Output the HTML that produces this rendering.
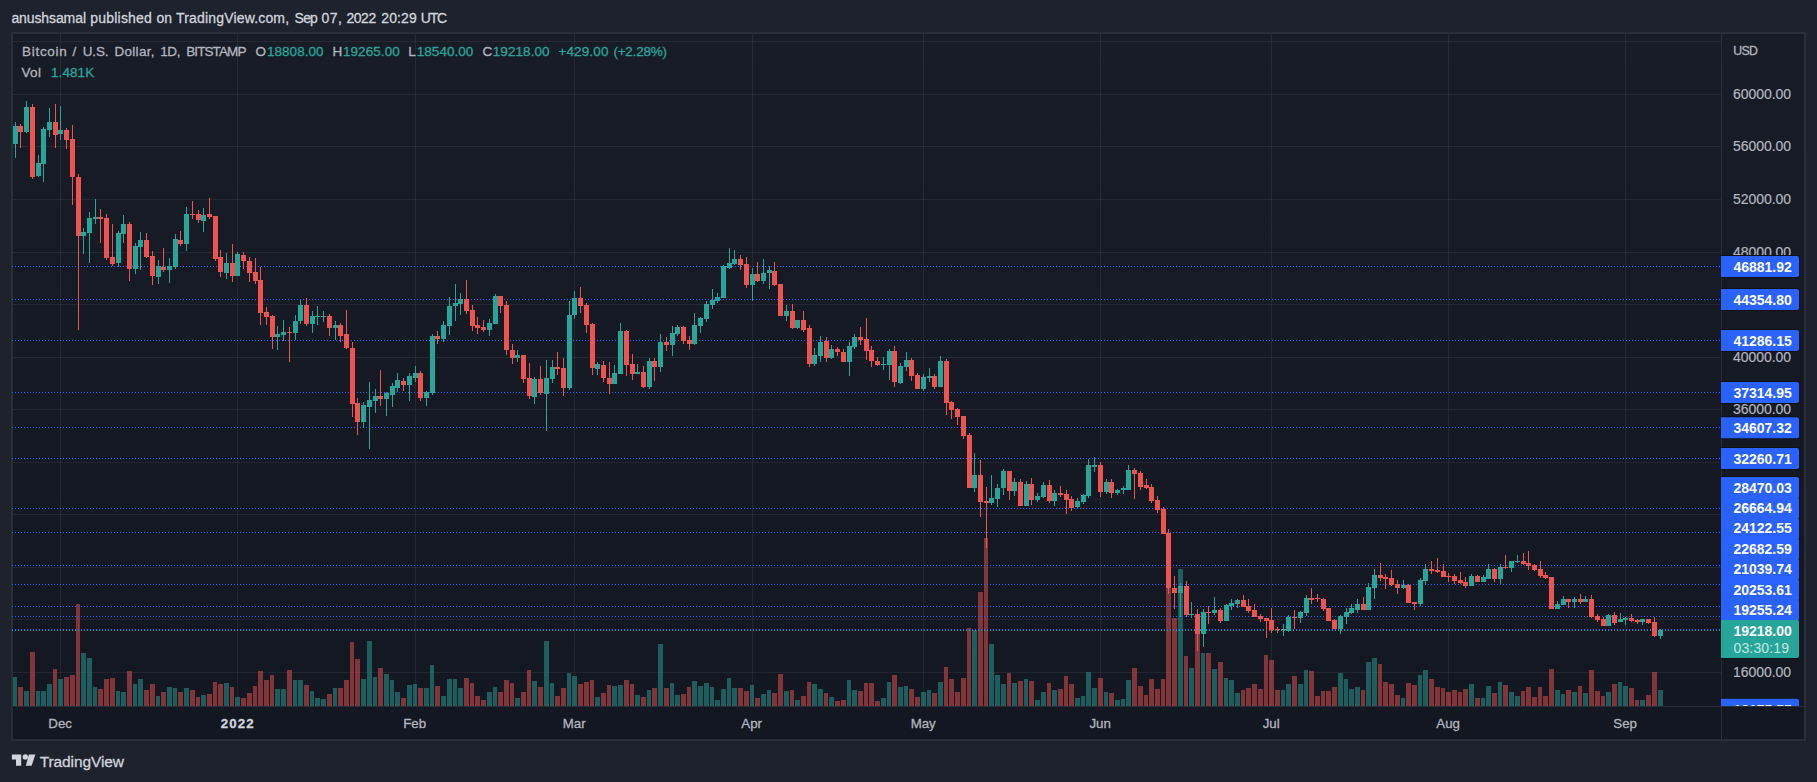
<!DOCTYPE html>
<html lang="en"><head><meta charset="utf-8"><title>BTCUSD chart</title>
<style>html,body{margin:0;padding:0;background:#1e222d;}body{width:1817px;height:782px;overflow:hidden;position:relative;font-family:"Liberation Sans",sans-serif;}svg{position:absolute;left:0;top:0;display:block}text{font-family:"Liberation Sans",sans-serif;}</style>
</head><body>
<svg width="1817" height="782" viewBox="0 0 1817 782">
<defs><linearGradient id="bg" x1="0" y1="0" x2="0" y2="1"><stop offset="0" stop-color="#181c27"/><stop offset="1" stop-color="#131722"/></linearGradient>
<clipPath id="pane"><rect x="13" y="34" width="1708" height="672"/></clipPath>
<clipPath id="axis"><rect x="1721" y="34" width="83" height="672"/></clipPath></defs>
<rect width="1817" height="782" fill="#1e222d"/>
<rect x="11" y="32" width="1795" height="709" fill="#2a2e39"/>
<rect x="13" y="34" width="1791" height="705" fill="url(#bg)"/>
<g shape-rendering="crispEdges">
<rect x="60" y="34" width="1" height="672" fill="#f0f3fa" fill-opacity="0.065"/>
<rect x="237" y="34" width="1" height="672" fill="#f0f3fa" fill-opacity="0.065"/>
<rect x="415" y="34" width="1" height="672" fill="#f0f3fa" fill-opacity="0.065"/>
<rect x="574" y="34" width="1" height="672" fill="#f0f3fa" fill-opacity="0.065"/>
<rect x="752" y="34" width="1" height="672" fill="#f0f3fa" fill-opacity="0.065"/>
<rect x="923" y="34" width="1" height="672" fill="#f0f3fa" fill-opacity="0.065"/>
<rect x="1100" y="34" width="1" height="672" fill="#f0f3fa" fill-opacity="0.065"/>
<rect x="1271" y="34" width="1" height="672" fill="#f0f3fa" fill-opacity="0.065"/>
<rect x="1448" y="34" width="1" height="672" fill="#f0f3fa" fill-opacity="0.065"/>
<rect x="1625" y="34" width="1" height="672" fill="#f0f3fa" fill-opacity="0.065"/>
<rect x="13" y="41" width="1708" height="1" fill="#f0f3fa" fill-opacity="0.065"/>
<rect x="13" y="94" width="1708" height="1" fill="#f0f3fa" fill-opacity="0.065"/>
<rect x="13" y="146" width="1708" height="1" fill="#f0f3fa" fill-opacity="0.065"/>
<rect x="13" y="199" width="1708" height="1" fill="#f0f3fa" fill-opacity="0.065"/>
<rect x="13" y="252" width="1708" height="1" fill="#f0f3fa" fill-opacity="0.065"/>
<rect x="13" y="304" width="1708" height="1" fill="#f0f3fa" fill-opacity="0.065"/>
<rect x="13" y="357" width="1708" height="1" fill="#f0f3fa" fill-opacity="0.065"/>
<rect x="13" y="409" width="1708" height="1" fill="#f0f3fa" fill-opacity="0.065"/>
<rect x="13" y="462" width="1708" height="1" fill="#f0f3fa" fill-opacity="0.065"/>
<rect x="13" y="514" width="1708" height="1" fill="#f0f3fa" fill-opacity="0.065"/>
<rect x="13" y="567" width="1708" height="1" fill="#f0f3fa" fill-opacity="0.065"/>
<rect x="13" y="619" width="1708" height="1" fill="#f0f3fa" fill-opacity="0.065"/>
<rect x="13" y="672" width="1708" height="1" fill="#f0f3fa" fill-opacity="0.065"/>
<rect x="1721" y="34" width="1" height="705" fill="#2a2e39"/>
<rect x="13" y="706" width="1791" height="1" fill="#2a2e39"/>
<g clip-path="url(#pane)">
<rect x="13" y="677" width="4" height="29" fill="rgba(38,166,154,0.5)"/>
<rect x="18" y="687" width="5" height="19" fill="rgba(239,83,80,0.5)"/>
<rect x="24" y="691" width="5" height="15" fill="rgba(38,166,154,0.5)"/>
<rect x="30" y="652" width="5" height="54" fill="rgba(239,83,80,0.5)"/>
<rect x="36" y="691" width="4" height="15" fill="rgba(38,166,154,0.5)"/>
<rect x="41" y="691" width="5" height="15" fill="rgba(38,166,154,0.5)"/>
<rect x="47" y="684" width="5" height="22" fill="rgba(38,166,154,0.5)"/>
<rect x="53" y="669" width="4" height="37" fill="rgba(239,83,80,0.5)"/>
<rect x="58" y="679" width="5" height="27" fill="rgba(38,166,154,0.5)"/>
<rect x="64" y="677" width="5" height="29" fill="rgba(239,83,80,0.5)"/>
<rect x="70" y="675" width="5" height="31" fill="rgba(239,83,80,0.5)"/>
<rect x="76" y="604" width="4" height="102" fill="rgba(239,83,80,0.5)"/>
<rect x="81" y="653" width="5" height="53" fill="rgba(38,166,154,0.5)"/>
<rect x="87" y="658" width="5" height="48" fill="rgba(38,166,154,0.5)"/>
<rect x="93" y="687" width="4" height="19" fill="rgba(38,166,154,0.5)"/>
<rect x="98" y="689" width="5" height="17" fill="rgba(239,83,80,0.5)"/>
<rect x="104" y="679" width="5" height="27" fill="rgba(239,83,80,0.5)"/>
<rect x="110" y="678" width="5" height="28" fill="rgba(239,83,80,0.5)"/>
<rect x="116" y="691" width="4" height="15" fill="rgba(38,166,154,0.5)"/>
<rect x="121" y="692" width="5" height="14" fill="rgba(38,166,154,0.5)"/>
<rect x="127" y="671" width="5" height="35" fill="rgba(239,83,80,0.5)"/>
<rect x="133" y="684" width="4" height="22" fill="rgba(38,166,154,0.5)"/>
<rect x="138" y="679" width="5" height="27" fill="rgba(38,166,154,0.5)"/>
<rect x="144" y="690" width="5" height="16" fill="rgba(239,83,80,0.5)"/>
<rect x="150" y="684" width="5" height="22" fill="rgba(239,83,80,0.5)"/>
<rect x="156" y="696" width="4" height="10" fill="rgba(38,166,154,0.5)"/>
<rect x="161" y="692" width="5" height="14" fill="rgba(239,83,80,0.5)"/>
<rect x="167" y="687" width="5" height="19" fill="rgba(38,166,154,0.5)"/>
<rect x="173" y="688" width="4" height="18" fill="rgba(38,166,154,0.5)"/>
<rect x="178" y="692" width="5" height="14" fill="rgba(239,83,80,0.5)"/>
<rect x="184" y="688" width="5" height="18" fill="rgba(38,166,154,0.5)"/>
<rect x="190" y="690" width="5" height="16" fill="rgba(239,83,80,0.5)"/>
<rect x="196" y="697" width="4" height="9" fill="rgba(239,83,80,0.5)"/>
<rect x="201" y="695" width="5" height="11" fill="rgba(38,166,154,0.5)"/>
<rect x="207" y="694" width="5" height="12" fill="rgba(239,83,80,0.5)"/>
<rect x="213" y="682" width="4" height="24" fill="rgba(239,83,80,0.5)"/>
<rect x="218" y="684" width="5" height="22" fill="rgba(239,83,80,0.5)"/>
<rect x="224" y="683" width="5" height="23" fill="rgba(38,166,154,0.5)"/>
<rect x="230" y="687" width="4" height="19" fill="rgba(239,83,80,0.5)"/>
<rect x="235" y="697" width="5" height="9" fill="rgba(38,166,154,0.5)"/>
<rect x="241" y="698" width="5" height="8" fill="rgba(239,83,80,0.5)"/>
<rect x="247" y="693" width="5" height="13" fill="rgba(239,83,80,0.5)"/>
<rect x="253" y="686" width="4" height="20" fill="rgba(239,83,80,0.5)"/>
<rect x="258" y="671" width="5" height="35" fill="rgba(239,83,80,0.5)"/>
<rect x="264" y="680" width="5" height="26" fill="rgba(239,83,80,0.5)"/>
<rect x="270" y="675" width="4" height="31" fill="rgba(239,83,80,0.5)"/>
<rect x="275" y="689" width="5" height="17" fill="rgba(38,166,154,0.5)"/>
<rect x="281" y="689" width="5" height="17" fill="rgba(38,166,154,0.5)"/>
<rect x="287" y="670" width="5" height="36" fill="rgba(239,83,80,0.5)"/>
<rect x="293" y="680" width="4" height="26" fill="rgba(38,166,154,0.5)"/>
<rect x="298" y="680" width="5" height="26" fill="rgba(38,166,154,0.5)"/>
<rect x="304" y="685" width="5" height="21" fill="rgba(239,83,80,0.5)"/>
<rect x="310" y="691" width="4" height="15" fill="rgba(38,166,154,0.5)"/>
<rect x="315" y="698" width="5" height="8" fill="rgba(38,166,154,0.5)"/>
<rect x="321" y="699" width="5" height="7" fill="rgba(38,166,154,0.5)"/>
<rect x="327" y="694" width="5" height="12" fill="rgba(239,83,80,0.5)"/>
<rect x="333" y="688" width="4" height="18" fill="rgba(38,166,154,0.5)"/>
<rect x="338" y="688" width="5" height="18" fill="rgba(239,83,80,0.5)"/>
<rect x="344" y="680" width="5" height="26" fill="rgba(239,83,80,0.5)"/>
<rect x="350" y="642" width="4" height="64" fill="rgba(239,83,80,0.5)"/>
<rect x="355" y="659" width="5" height="47" fill="rgba(239,83,80,0.5)"/>
<rect x="361" y="679" width="5" height="27" fill="rgba(38,166,154,0.5)"/>
<rect x="367" y="641" width="5" height="65" fill="rgba(38,166,154,0.5)"/>
<rect x="373" y="677" width="4" height="29" fill="rgba(38,166,154,0.5)"/>
<rect x="378" y="668" width="5" height="38" fill="rgba(239,83,80,0.5)"/>
<rect x="384" y="674" width="5" height="32" fill="rgba(38,166,154,0.5)"/>
<rect x="390" y="680" width="4" height="26" fill="rgba(38,166,154,0.5)"/>
<rect x="395" y="692" width="5" height="14" fill="rgba(38,166,154,0.5)"/>
<rect x="401" y="698" width="5" height="8" fill="rgba(239,83,80,0.5)"/>
<rect x="407" y="685" width="5" height="21" fill="rgba(38,166,154,0.5)"/>
<rect x="413" y="684" width="4" height="22" fill="rgba(38,166,154,0.5)"/>
<rect x="418" y="688" width="5" height="18" fill="rgba(239,83,80,0.5)"/>
<rect x="424" y="688" width="5" height="18" fill="rgba(38,166,154,0.5)"/>
<rect x="430" y="665" width="4" height="41" fill="rgba(38,166,154,0.5)"/>
<rect x="435" y="686" width="5" height="20" fill="rgba(239,83,80,0.5)"/>
<rect x="441" y="696" width="5" height="10" fill="rgba(38,166,154,0.5)"/>
<rect x="447" y="679" width="5" height="27" fill="rgba(38,166,154,0.5)"/>
<rect x="453" y="679" width="4" height="27" fill="rgba(38,166,154,0.5)"/>
<rect x="458" y="688" width="5" height="18" fill="rgba(38,166,154,0.5)"/>
<rect x="464" y="678" width="5" height="28" fill="rgba(239,83,80,0.5)"/>
<rect x="470" y="683" width="4" height="23" fill="rgba(239,83,80,0.5)"/>
<rect x="475" y="696" width="5" height="10" fill="rgba(239,83,80,0.5)"/>
<rect x="481" y="700" width="5" height="6" fill="rgba(239,83,80,0.5)"/>
<rect x="487" y="692" width="5" height="14" fill="rgba(38,166,154,0.5)"/>
<rect x="493" y="687" width="4" height="19" fill="rgba(38,166,154,0.5)"/>
<rect x="498" y="692" width="5" height="14" fill="rgba(239,83,80,0.5)"/>
<rect x="504" y="680" width="5" height="26" fill="rgba(239,83,80,0.5)"/>
<rect x="510" y="683" width="4" height="23" fill="rgba(239,83,80,0.5)"/>
<rect x="515" y="698" width="5" height="8" fill="rgba(38,166,154,0.5)"/>
<rect x="521" y="692" width="5" height="14" fill="rgba(239,83,80,0.5)"/>
<rect x="527" y="670" width="4" height="36" fill="rgba(239,83,80,0.5)"/>
<rect x="532" y="681" width="5" height="25" fill="rgba(38,166,154,0.5)"/>
<rect x="538" y="687" width="5" height="19" fill="rgba(239,83,80,0.5)"/>
<rect x="544" y="641" width="5" height="65" fill="rgba(38,166,154,0.5)"/>
<rect x="550" y="683" width="4" height="23" fill="rgba(38,166,154,0.5)"/>
<rect x="555" y="696" width="5" height="10" fill="rgba(239,83,80,0.5)"/>
<rect x="561" y="688" width="5" height="18" fill="rgba(239,83,80,0.5)"/>
<rect x="567" y="673" width="4" height="33" fill="rgba(38,166,154,0.5)"/>
<rect x="572" y="676" width="5" height="30" fill="rgba(38,166,154,0.5)"/>
<rect x="578" y="684" width="5" height="22" fill="rgba(239,83,80,0.5)"/>
<rect x="584" y="682" width="5" height="24" fill="rgba(239,83,80,0.5)"/>
<rect x="590" y="680" width="4" height="26" fill="rgba(239,83,80,0.5)"/>
<rect x="595" y="697" width="5" height="9" fill="rgba(38,166,154,0.5)"/>
<rect x="601" y="693" width="5" height="13" fill="rgba(239,83,80,0.5)"/>
<rect x="607" y="685" width="4" height="21" fill="rgba(239,83,80,0.5)"/>
<rect x="612" y="686" width="5" height="20" fill="rgba(38,166,154,0.5)"/>
<rect x="618" y="685" width="5" height="21" fill="rgba(38,166,154,0.5)"/>
<rect x="624" y="680" width="5" height="26" fill="rgba(239,83,80,0.5)"/>
<rect x="630" y="684" width="4" height="22" fill="rgba(239,83,80,0.5)"/>
<rect x="635" y="695" width="5" height="11" fill="rgba(38,166,154,0.5)"/>
<rect x="641" y="697" width="5" height="9" fill="rgba(239,83,80,0.5)"/>
<rect x="647" y="690" width="4" height="16" fill="rgba(38,166,154,0.5)"/>
<rect x="652" y="688" width="5" height="18" fill="rgba(239,83,80,0.5)"/>
<rect x="658" y="644" width="5" height="62" fill="rgba(38,166,154,0.5)"/>
<rect x="664" y="688" width="5" height="18" fill="rgba(239,83,80,0.5)"/>
<rect x="670" y="683" width="4" height="23" fill="rgba(38,166,154,0.5)"/>
<rect x="675" y="695" width="5" height="11" fill="rgba(38,166,154,0.5)"/>
<rect x="681" y="694" width="5" height="12" fill="rgba(239,83,80,0.5)"/>
<rect x="687" y="687" width="4" height="19" fill="rgba(239,83,80,0.5)"/>
<rect x="692" y="681" width="5" height="25" fill="rgba(38,166,154,0.5)"/>
<rect x="698" y="686" width="5" height="20" fill="rgba(38,166,154,0.5)"/>
<rect x="704" y="683" width="5" height="23" fill="rgba(38,166,154,0.5)"/>
<rect x="710" y="687" width="4" height="19" fill="rgba(38,166,154,0.5)"/>
<rect x="715" y="700" width="5" height="6" fill="rgba(38,166,154,0.5)"/>
<rect x="721" y="689" width="5" height="17" fill="rgba(38,166,154,0.5)"/>
<rect x="727" y="678" width="4" height="28" fill="rgba(38,166,154,0.5)"/>
<rect x="732" y="688" width="5" height="18" fill="rgba(38,166,154,0.5)"/>
<rect x="738" y="688" width="5" height="18" fill="rgba(239,83,80,0.5)"/>
<rect x="744" y="691" width="5" height="15" fill="rgba(239,83,80,0.5)"/>
<rect x="750" y="685" width="4" height="21" fill="rgba(38,166,154,0.5)"/>
<rect x="755" y="698" width="5" height="8" fill="rgba(239,83,80,0.5)"/>
<rect x="761" y="694" width="5" height="12" fill="rgba(38,166,154,0.5)"/>
<rect x="767" y="690" width="4" height="16" fill="rgba(38,166,154,0.5)"/>
<rect x="772" y="693" width="5" height="13" fill="rgba(239,83,80,0.5)"/>
<rect x="778" y="674" width="5" height="32" fill="rgba(239,83,80,0.5)"/>
<rect x="784" y="691" width="5" height="15" fill="rgba(38,166,154,0.5)"/>
<rect x="790" y="690" width="4" height="16" fill="rgba(239,83,80,0.5)"/>
<rect x="795" y="700" width="5" height="6" fill="rgba(38,166,154,0.5)"/>
<rect x="801" y="696" width="5" height="10" fill="rgba(239,83,80,0.5)"/>
<rect x="807" y="682" width="4" height="24" fill="rgba(239,83,80,0.5)"/>
<rect x="812" y="684" width="5" height="22" fill="rgba(38,166,154,0.5)"/>
<rect x="818" y="689" width="5" height="17" fill="rgba(38,166,154,0.5)"/>
<rect x="824" y="693" width="4" height="13" fill="rgba(239,83,80,0.5)"/>
<rect x="829" y="697" width="5" height="9" fill="rgba(38,166,154,0.5)"/>
<rect x="835" y="701" width="5" height="5" fill="rgba(239,83,80,0.5)"/>
<rect x="841" y="700" width="5" height="6" fill="rgba(239,83,80,0.5)"/>
<rect x="847" y="680" width="4" height="26" fill="rgba(38,166,154,0.5)"/>
<rect x="852" y="690" width="5" height="16" fill="rgba(38,166,154,0.5)"/>
<rect x="858" y="691" width="5" height="15" fill="rgba(239,83,80,0.5)"/>
<rect x="864" y="683" width="4" height="23" fill="rgba(239,83,80,0.5)"/>
<rect x="869" y="683" width="5" height="23" fill="rgba(239,83,80,0.5)"/>
<rect x="875" y="701" width="5" height="5" fill="rgba(239,83,80,0.5)"/>
<rect x="881" y="698" width="5" height="8" fill="rgba(38,166,154,0.5)"/>
<rect x="887" y="682" width="4" height="24" fill="rgba(38,166,154,0.5)"/>
<rect x="892" y="675" width="5" height="31" fill="rgba(239,83,80,0.5)"/>
<rect x="898" y="687" width="5" height="19" fill="rgba(38,166,154,0.5)"/>
<rect x="904" y="686" width="4" height="20" fill="rgba(38,166,154,0.5)"/>
<rect x="909" y="689" width="5" height="17" fill="rgba(239,83,80,0.5)"/>
<rect x="915" y="697" width="5" height="9" fill="rgba(239,83,80,0.5)"/>
<rect x="921" y="692" width="5" height="14" fill="rgba(38,166,154,0.5)"/>
<rect x="927" y="690" width="4" height="16" fill="rgba(38,166,154,0.5)"/>
<rect x="932" y="693" width="5" height="13" fill="rgba(239,83,80,0.5)"/>
<rect x="938" y="682" width="5" height="24" fill="rgba(38,166,154,0.5)"/>
<rect x="944" y="667" width="4" height="39" fill="rgba(239,83,80,0.5)"/>
<rect x="949" y="679" width="5" height="27" fill="rgba(239,83,80,0.5)"/>
<rect x="955" y="692" width="5" height="14" fill="rgba(239,83,80,0.5)"/>
<rect x="961" y="678" width="5" height="28" fill="rgba(239,83,80,0.5)"/>
<rect x="967" y="628" width="4" height="78" fill="rgba(239,83,80,0.5)"/>
<rect x="972" y="630" width="5" height="76" fill="rgba(38,166,154,0.5)"/>
<rect x="978" y="592" width="5" height="114" fill="rgba(239,83,80,0.5)"/>
<rect x="984" y="538" width="4" height="168" fill="rgba(239,83,80,0.5)"/>
<rect x="989" y="644" width="5" height="62" fill="rgba(38,166,154,0.5)"/>
<rect x="995" y="675" width="5" height="31" fill="rgba(38,166,154,0.5)"/>
<rect x="1001" y="684" width="5" height="22" fill="rgba(38,166,154,0.5)"/>
<rect x="1007" y="673" width="4" height="33" fill="rgba(239,83,80,0.5)"/>
<rect x="1012" y="683" width="5" height="23" fill="rgba(38,166,154,0.5)"/>
<rect x="1018" y="681" width="5" height="25" fill="rgba(239,83,80,0.5)"/>
<rect x="1024" y="679" width="4" height="27" fill="rgba(38,166,154,0.5)"/>
<rect x="1029" y="681" width="5" height="25" fill="rgba(239,83,80,0.5)"/>
<rect x="1035" y="700" width="5" height="6" fill="rgba(38,166,154,0.5)"/>
<rect x="1041" y="692" width="5" height="14" fill="rgba(38,166,154,0.5)"/>
<rect x="1047" y="683" width="4" height="23" fill="rgba(239,83,80,0.5)"/>
<rect x="1052" y="690" width="5" height="16" fill="rgba(38,166,154,0.5)"/>
<rect x="1058" y="689" width="5" height="17" fill="rgba(239,83,80,0.5)"/>
<rect x="1064" y="676" width="4" height="30" fill="rgba(239,83,80,0.5)"/>
<rect x="1069" y="684" width="5" height="22" fill="rgba(239,83,80,0.5)"/>
<rect x="1075" y="698" width="5" height="8" fill="rgba(38,166,154,0.5)"/>
<rect x="1081" y="696" width="4" height="10" fill="rgba(38,166,154,0.5)"/>
<rect x="1086" y="672" width="5" height="34" fill="rgba(38,166,154,0.5)"/>
<rect x="1092" y="688" width="5" height="18" fill="rgba(38,166,154,0.5)"/>
<rect x="1098" y="678" width="5" height="28" fill="rgba(239,83,80,0.5)"/>
<rect x="1104" y="692" width="4" height="14" fill="rgba(38,166,154,0.5)"/>
<rect x="1109" y="693" width="5" height="13" fill="rgba(239,83,80,0.5)"/>
<rect x="1115" y="700" width="5" height="6" fill="rgba(38,166,154,0.5)"/>
<rect x="1121" y="699" width="4" height="7" fill="rgba(38,166,154,0.5)"/>
<rect x="1126" y="680" width="5" height="26" fill="rgba(38,166,154,0.5)"/>
<rect x="1132" y="668" width="5" height="38" fill="rgba(239,83,80,0.5)"/>
<rect x="1138" y="686" width="5" height="20" fill="rgba(239,83,80,0.5)"/>
<rect x="1144" y="695" width="4" height="11" fill="rgba(239,83,80,0.5)"/>
<rect x="1149" y="679" width="5" height="27" fill="rgba(239,83,80,0.5)"/>
<rect x="1155" y="689" width="5" height="17" fill="rgba(239,83,80,0.5)"/>
<rect x="1161" y="679" width="4" height="27" fill="rgba(239,83,80,0.5)"/>
<rect x="1166" y="576" width="5" height="130" fill="rgba(239,83,80,0.5)"/>
<rect x="1172" y="618" width="5" height="88" fill="rgba(239,83,80,0.5)"/>
<rect x="1178" y="569" width="5" height="137" fill="rgba(38,166,154,0.5)"/>
<rect x="1184" y="656" width="4" height="50" fill="rgba(239,83,80,0.5)"/>
<rect x="1189" y="668" width="5" height="38" fill="rgba(38,166,154,0.5)"/>
<rect x="1195" y="625" width="5" height="81" fill="rgba(239,83,80,0.5)"/>
<rect x="1201" y="653" width="4" height="53" fill="rgba(38,166,154,0.5)"/>
<rect x="1206" y="653" width="5" height="53" fill="rgba(239,83,80,0.5)"/>
<rect x="1212" y="669" width="5" height="37" fill="rgba(38,166,154,0.5)"/>
<rect x="1218" y="662" width="5" height="44" fill="rgba(239,83,80,0.5)"/>
<rect x="1224" y="678" width="4" height="28" fill="rgba(38,166,154,0.5)"/>
<rect x="1229" y="680" width="5" height="26" fill="rgba(38,166,154,0.5)"/>
<rect x="1235" y="693" width="5" height="13" fill="rgba(38,166,154,0.5)"/>
<rect x="1241" y="690" width="4" height="16" fill="rgba(239,83,80,0.5)"/>
<rect x="1246" y="688" width="5" height="18" fill="rgba(239,83,80,0.5)"/>
<rect x="1252" y="684" width="5" height="22" fill="rgba(239,83,80,0.5)"/>
<rect x="1258" y="689" width="5" height="17" fill="rgba(239,83,80,0.5)"/>
<rect x="1264" y="655" width="4" height="51" fill="rgba(239,83,80,0.5)"/>
<rect x="1269" y="660" width="5" height="46" fill="rgba(239,83,80,0.5)"/>
<rect x="1275" y="690" width="5" height="16" fill="rgba(239,83,80,0.5)"/>
<rect x="1281" y="690" width="4" height="16" fill="rgba(38,166,154,0.5)"/>
<rect x="1286" y="684" width="5" height="22" fill="rgba(38,166,154,0.5)"/>
<rect x="1292" y="676" width="5" height="30" fill="rgba(239,83,80,0.5)"/>
<rect x="1298" y="684" width="5" height="22" fill="rgba(38,166,154,0.5)"/>
<rect x="1304" y="670" width="4" height="36" fill="rgba(38,166,154,0.5)"/>
<rect x="1309" y="671" width="5" height="35" fill="rgba(239,83,80,0.5)"/>
<rect x="1315" y="696" width="5" height="10" fill="rgba(239,83,80,0.5)"/>
<rect x="1321" y="691" width="4" height="15" fill="rgba(239,83,80,0.5)"/>
<rect x="1326" y="691" width="5" height="15" fill="rgba(239,83,80,0.5)"/>
<rect x="1332" y="687" width="5" height="19" fill="rgba(239,83,80,0.5)"/>
<rect x="1338" y="673" width="5" height="33" fill="rgba(38,166,154,0.5)"/>
<rect x="1344" y="679" width="4" height="27" fill="rgba(38,166,154,0.5)"/>
<rect x="1349" y="689" width="5" height="17" fill="rgba(38,166,154,0.5)"/>
<rect x="1355" y="687" width="5" height="19" fill="rgba(38,166,154,0.5)"/>
<rect x="1361" y="690" width="4" height="16" fill="rgba(239,83,80,0.5)"/>
<rect x="1366" y="662" width="5" height="44" fill="rgba(38,166,154,0.5)"/>
<rect x="1372" y="658" width="5" height="48" fill="rgba(38,166,154,0.5)"/>
<rect x="1378" y="664" width="4" height="42" fill="rgba(239,83,80,0.5)"/>
<rect x="1383" y="682" width="5" height="24" fill="rgba(239,83,80,0.5)"/>
<rect x="1389" y="684" width="5" height="22" fill="rgba(239,83,80,0.5)"/>
<rect x="1395" y="695" width="5" height="11" fill="rgba(239,83,80,0.5)"/>
<rect x="1401" y="698" width="4" height="8" fill="rgba(38,166,154,0.5)"/>
<rect x="1406" y="683" width="5" height="23" fill="rgba(239,83,80,0.5)"/>
<rect x="1412" y="685" width="5" height="21" fill="rgba(239,83,80,0.5)"/>
<rect x="1418" y="675" width="4" height="31" fill="rgba(38,166,154,0.5)"/>
<rect x="1423" y="670" width="5" height="36" fill="rgba(38,166,154,0.5)"/>
<rect x="1429" y="679" width="5" height="27" fill="rgba(239,83,80,0.5)"/>
<rect x="1435" y="687" width="5" height="19" fill="rgba(239,83,80,0.5)"/>
<rect x="1441" y="688" width="4" height="18" fill="rgba(239,83,80,0.5)"/>
<rect x="1446" y="692" width="5" height="14" fill="rgba(239,83,80,0.5)"/>
<rect x="1452" y="690" width="5" height="16" fill="rgba(239,83,80,0.5)"/>
<rect x="1458" y="692" width="4" height="14" fill="rgba(239,83,80,0.5)"/>
<rect x="1463" y="689" width="5" height="17" fill="rgba(239,83,80,0.5)"/>
<rect x="1469" y="684" width="5" height="22" fill="rgba(38,166,154,0.5)"/>
<rect x="1475" y="698" width="5" height="8" fill="rgba(239,83,80,0.5)"/>
<rect x="1481" y="698" width="4" height="8" fill="rgba(38,166,154,0.5)"/>
<rect x="1486" y="686" width="5" height="20" fill="rgba(38,166,154,0.5)"/>
<rect x="1492" y="693" width="5" height="13" fill="rgba(239,83,80,0.5)"/>
<rect x="1498" y="682" width="4" height="24" fill="rgba(38,166,154,0.5)"/>
<rect x="1503" y="685" width="5" height="21" fill="rgba(239,83,80,0.5)"/>
<rect x="1509" y="692" width="5" height="14" fill="rgba(38,166,154,0.5)"/>
<rect x="1515" y="696" width="5" height="10" fill="rgba(38,166,154,0.5)"/>
<rect x="1521" y="691" width="4" height="15" fill="rgba(239,83,80,0.5)"/>
<rect x="1526" y="687" width="5" height="19" fill="rgba(239,83,80,0.5)"/>
<rect x="1532" y="697" width="5" height="9" fill="rgba(239,83,80,0.5)"/>
<rect x="1538" y="687" width="4" height="19" fill="rgba(239,83,80,0.5)"/>
<rect x="1543" y="696" width="5" height="10" fill="rgba(239,83,80,0.5)"/>
<rect x="1549" y="669" width="5" height="37" fill="rgba(239,83,80,0.5)"/>
<rect x="1555" y="690" width="5" height="16" fill="rgba(38,166,154,0.5)"/>
<rect x="1561" y="694" width="4" height="12" fill="rgba(38,166,154,0.5)"/>
<rect x="1566" y="690" width="5" height="16" fill="rgba(239,83,80,0.5)"/>
<rect x="1572" y="692" width="5" height="14" fill="rgba(38,166,154,0.5)"/>
<rect x="1578" y="686" width="4" height="20" fill="rgba(239,83,80,0.5)"/>
<rect x="1583" y="693" width="5" height="13" fill="rgba(38,166,154,0.5)"/>
<rect x="1589" y="670" width="5" height="36" fill="rgba(239,83,80,0.5)"/>
<rect x="1595" y="691" width="5" height="15" fill="rgba(239,83,80,0.5)"/>
<rect x="1601" y="696" width="4" height="10" fill="rgba(239,83,80,0.5)"/>
<rect x="1606" y="692" width="5" height="14" fill="rgba(38,166,154,0.5)"/>
<rect x="1612" y="684" width="5" height="22" fill="rgba(239,83,80,0.5)"/>
<rect x="1618" y="682" width="4" height="24" fill="rgba(38,166,154,0.5)"/>
<rect x="1623" y="686" width="5" height="20" fill="rgba(38,166,154,0.5)"/>
<rect x="1629" y="688" width="5" height="18" fill="rgba(239,83,80,0.5)"/>
<rect x="1635" y="700" width="4" height="6" fill="rgba(239,83,80,0.5)"/>
<rect x="1640" y="700" width="5" height="6" fill="rgba(38,166,154,0.5)"/>
<rect x="1646" y="695" width="5" height="11" fill="rgba(239,83,80,0.5)"/>
<rect x="1652" y="672" width="5" height="34" fill="rgba(239,83,80,0.5)"/>
<rect x="1658" y="690" width="5" height="16" fill="rgba(38,166,154,0.5)"/>
</g>
<line x1="12" y1="266.5" x2="1721" y2="266.5" stroke="#2962ff" stroke-width="1" stroke-dasharray="1 2"/>
<line x1="12" y1="299.5" x2="1721" y2="299.5" stroke="#2962ff" stroke-width="1" stroke-dasharray="1 2"/>
<line x1="12" y1="340.5" x2="1721" y2="340.5" stroke="#2962ff" stroke-width="1" stroke-dasharray="1 2"/>
<line x1="12" y1="392.5" x2="1721" y2="392.5" stroke="#2962ff" stroke-width="1" stroke-dasharray="1 2"/>
<line x1="12" y1="427.5" x2="1721" y2="427.5" stroke="#2962ff" stroke-width="1" stroke-dasharray="1 2"/>
<line x1="12" y1="458.5" x2="1721" y2="458.5" stroke="#2962ff" stroke-width="1" stroke-dasharray="1 2"/>
<line x1="12" y1="508.5" x2="1721" y2="508.5" stroke="#2962ff" stroke-width="1" stroke-dasharray="1 2"/>
<line x1="12" y1="532.5" x2="1721" y2="532.5" stroke="#2962ff" stroke-width="1" stroke-dasharray="1 2"/>
<line x1="12" y1="565.5" x2="1721" y2="565.5" stroke="#2962ff" stroke-width="1" stroke-dasharray="1 2"/>
<line x1="12" y1="584.5" x2="1721" y2="584.5" stroke="#2962ff" stroke-width="1" stroke-dasharray="1 2"/>
<line x1="12" y1="606.5" x2="1721" y2="606.5" stroke="#2962ff" stroke-width="1" stroke-dasharray="1 2"/>
<line x1="12" y1="616.5" x2="1721" y2="616.5" stroke="#2962ff" stroke-width="1" stroke-dasharray="1 2"/>
<line x1="12" y1="629.5" x2="1721" y2="629.5" stroke="#2962ff" stroke-width="1" stroke-dasharray="1 2"/>
<line x1="12" y1="630.5" x2="1721" y2="630.5" stroke="#26a69a" stroke-width="1" stroke-dasharray="1 2"/>
<g clip-path="url(#pane)">
<rect x="15" y="122" width="1" height="36" fill="#26a69a"/>
<rect x="13" y="126" width="5" height="18" fill="#26a69a"/>
<rect x="20" y="124" width="1" height="24" fill="#ef5350"/>
<rect x="18" y="126" width="5" height="6" fill="#ef5350"/>
<rect x="26" y="101" width="1" height="32" fill="#26a69a"/>
<rect x="24" y="107" width="5" height="25" fill="#26a69a"/>
<rect x="32" y="104" width="1" height="75" fill="#ef5350"/>
<rect x="30" y="107" width="5" height="70" fill="#ef5350"/>
<rect x="38" y="155" width="1" height="22" fill="#26a69a"/>
<rect x="36" y="163" width="5" height="13" fill="#26a69a"/>
<rect x="43" y="127" width="1" height="55" fill="#26a69a"/>
<rect x="41" y="129" width="5" height="35" fill="#26a69a"/>
<rect x="49" y="108" width="1" height="29" fill="#26a69a"/>
<rect x="47" y="122" width="5" height="8" fill="#26a69a"/>
<rect x="55" y="104" width="1" height="44" fill="#ef5350"/>
<rect x="53" y="122" width="5" height="13" fill="#ef5350"/>
<rect x="60" y="106" width="1" height="34" fill="#26a69a"/>
<rect x="58" y="130" width="5" height="4" fill="#26a69a"/>
<rect x="66" y="128" width="1" height="21" fill="#ef5350"/>
<rect x="64" y="130" width="5" height="10" fill="#ef5350"/>
<rect x="72" y="125" width="1" height="80" fill="#ef5350"/>
<rect x="70" y="139" width="5" height="38" fill="#ef5350"/>
<rect x="78" y="174" width="1" height="156" fill="#ef5350"/>
<rect x="76" y="177" width="5" height="59" fill="#ef5350"/>
<rect x="83" y="228" width="1" height="26" fill="#26a69a"/>
<rect x="81" y="232" width="5" height="4" fill="#26a69a"/>
<rect x="89" y="212" width="1" height="51" fill="#26a69a"/>
<rect x="87" y="218" width="5" height="15" fill="#26a69a"/>
<rect x="95" y="199" width="1" height="25" fill="#26a69a"/>
<rect x="93" y="217" width="5" height="2" fill="#26a69a"/>
<rect x="100" y="209" width="1" height="34" fill="#ef5350"/>
<rect x="98" y="217" width="5" height="2" fill="#ef5350"/>
<rect x="106" y="214" width="1" height="46" fill="#ef5350"/>
<rect x="104" y="218" width="5" height="40" fill="#ef5350"/>
<rect x="112" y="224" width="1" height="42" fill="#ef5350"/>
<rect x="110" y="257" width="5" height="7" fill="#ef5350"/>
<rect x="118" y="231" width="1" height="36" fill="#26a69a"/>
<rect x="116" y="233" width="5" height="30" fill="#26a69a"/>
<rect x="123" y="215" width="1" height="28" fill="#26a69a"/>
<rect x="121" y="224" width="5" height="10" fill="#26a69a"/>
<rect x="129" y="222" width="1" height="59" fill="#ef5350"/>
<rect x="127" y="224" width="5" height="45" fill="#ef5350"/>
<rect x="135" y="243" width="1" height="31" fill="#26a69a"/>
<rect x="133" y="246" width="5" height="23" fill="#26a69a"/>
<rect x="140" y="232" width="1" height="38" fill="#26a69a"/>
<rect x="138" y="240" width="5" height="7" fill="#26a69a"/>
<rect x="146" y="233" width="1" height="25" fill="#ef5350"/>
<rect x="144" y="240" width="5" height="17" fill="#ef5350"/>
<rect x="152" y="251" width="1" height="34" fill="#ef5350"/>
<rect x="150" y="256" width="5" height="20" fill="#ef5350"/>
<rect x="158" y="260" width="1" height="24" fill="#26a69a"/>
<rect x="156" y="266" width="5" height="11" fill="#26a69a"/>
<rect x="163" y="248" width="1" height="24" fill="#ef5350"/>
<rect x="161" y="267" width="5" height="3" fill="#ef5350"/>
<rect x="169" y="258" width="1" height="25" fill="#26a69a"/>
<rect x="167" y="266" width="5" height="4" fill="#26a69a"/>
<rect x="175" y="234" width="1" height="35" fill="#26a69a"/>
<rect x="173" y="239" width="5" height="28" fill="#26a69a"/>
<rect x="180" y="231" width="1" height="15" fill="#ef5350"/>
<rect x="178" y="240" width="5" height="4" fill="#ef5350"/>
<rect x="186" y="207" width="1" height="44" fill="#26a69a"/>
<rect x="184" y="214" width="5" height="30" fill="#26a69a"/>
<rect x="192" y="201" width="1" height="18" fill="#ef5350"/>
<rect x="190" y="214" width="5" height="1" fill="#ef5350"/>
<rect x="198" y="210" width="1" height="13" fill="#ef5350"/>
<rect x="196" y="214" width="5" height="6" fill="#ef5350"/>
<rect x="203" y="208" width="1" height="24" fill="#26a69a"/>
<rect x="201" y="215" width="5" height="6" fill="#26a69a"/>
<rect x="209" y="198" width="1" height="21" fill="#ef5350"/>
<rect x="207" y="214" width="5" height="3" fill="#ef5350"/>
<rect x="215" y="216" width="1" height="45" fill="#ef5350"/>
<rect x="213" y="216" width="5" height="43" fill="#ef5350"/>
<rect x="220" y="250" width="1" height="27" fill="#ef5350"/>
<rect x="218" y="257" width="5" height="15" fill="#ef5350"/>
<rect x="226" y="253" width="1" height="26" fill="#26a69a"/>
<rect x="224" y="263" width="5" height="10" fill="#26a69a"/>
<rect x="232" y="244" width="1" height="38" fill="#ef5350"/>
<rect x="230" y="263" width="5" height="13" fill="#ef5350"/>
<rect x="237" y="252" width="1" height="24" fill="#26a69a"/>
<rect x="235" y="254" width="5" height="22" fill="#26a69a"/>
<rect x="243" y="252" width="1" height="17" fill="#ef5350"/>
<rect x="241" y="255" width="5" height="6" fill="#ef5350"/>
<rect x="249" y="257" width="1" height="25" fill="#ef5350"/>
<rect x="247" y="261" width="5" height="12" fill="#ef5350"/>
<rect x="255" y="258" width="1" height="26" fill="#ef5350"/>
<rect x="253" y="272" width="5" height="9" fill="#ef5350"/>
<rect x="260" y="267" width="1" height="58" fill="#ef5350"/>
<rect x="258" y="280" width="5" height="33" fill="#ef5350"/>
<rect x="266" y="307" width="1" height="18" fill="#ef5350"/>
<rect x="264" y="312" width="5" height="5" fill="#ef5350"/>
<rect x="272" y="315" width="1" height="34" fill="#ef5350"/>
<rect x="270" y="316" width="5" height="21" fill="#ef5350"/>
<rect x="277" y="326" width="1" height="24" fill="#26a69a"/>
<rect x="275" y="334" width="5" height="3" fill="#26a69a"/>
<rect x="283" y="320" width="1" height="21" fill="#26a69a"/>
<rect x="281" y="332" width="5" height="3" fill="#26a69a"/>
<rect x="289" y="327" width="1" height="35" fill="#ef5350"/>
<rect x="287" y="332" width="5" height="1" fill="#ef5350"/>
<rect x="295" y="315" width="1" height="25" fill="#26a69a"/>
<rect x="293" y="321" width="5" height="12" fill="#26a69a"/>
<rect x="300" y="300" width="1" height="24" fill="#26a69a"/>
<rect x="298" y="305" width="5" height="16" fill="#26a69a"/>
<rect x="306" y="298" width="1" height="28" fill="#ef5350"/>
<rect x="304" y="305" width="5" height="19" fill="#ef5350"/>
<rect x="312" y="311" width="1" height="22" fill="#26a69a"/>
<rect x="310" y="316" width="5" height="8" fill="#26a69a"/>
<rect x="317" y="306" width="1" height="19" fill="#26a69a"/>
<rect x="315" y="316" width="5" height="1" fill="#26a69a"/>
<rect x="323" y="311" width="1" height="11" fill="#26a69a"/>
<rect x="321" y="316" width="5" height="1" fill="#26a69a"/>
<rect x="329" y="314" width="1" height="22" fill="#ef5350"/>
<rect x="327" y="316" width="5" height="12" fill="#ef5350"/>
<rect x="335" y="321" width="1" height="19" fill="#26a69a"/>
<rect x="333" y="325" width="5" height="3" fill="#26a69a"/>
<rect x="340" y="323" width="1" height="19" fill="#ef5350"/>
<rect x="338" y="325" width="5" height="11" fill="#ef5350"/>
<rect x="346" y="310" width="1" height="39" fill="#ef5350"/>
<rect x="344" y="334" width="5" height="14" fill="#ef5350"/>
<rect x="352" y="342" width="1" height="75" fill="#ef5350"/>
<rect x="350" y="348" width="5" height="56" fill="#ef5350"/>
<rect x="357" y="398" width="1" height="37" fill="#ef5350"/>
<rect x="355" y="403" width="5" height="19" fill="#ef5350"/>
<rect x="363" y="402" width="1" height="26" fill="#26a69a"/>
<rect x="361" y="405" width="5" height="17" fill="#26a69a"/>
<rect x="369" y="382" width="1" height="67" fill="#26a69a"/>
<rect x="367" y="400" width="5" height="7" fill="#26a69a"/>
<rect x="375" y="389" width="1" height="24" fill="#26a69a"/>
<rect x="373" y="396" width="5" height="5" fill="#26a69a"/>
<rect x="380" y="370" width="1" height="36" fill="#ef5350"/>
<rect x="378" y="396" width="5" height="3" fill="#ef5350"/>
<rect x="386" y="392" width="1" height="24" fill="#26a69a"/>
<rect x="384" y="393" width="5" height="6" fill="#26a69a"/>
<rect x="392" y="383" width="1" height="24" fill="#26a69a"/>
<rect x="390" y="386" width="5" height="9" fill="#26a69a"/>
<rect x="397" y="373" width="1" height="19" fill="#26a69a"/>
<rect x="395" y="380" width="5" height="8" fill="#26a69a"/>
<rect x="403" y="378" width="1" height="13" fill="#ef5350"/>
<rect x="401" y="381" width="5" height="4" fill="#ef5350"/>
<rect x="409" y="373" width="1" height="28" fill="#26a69a"/>
<rect x="407" y="376" width="5" height="9" fill="#26a69a"/>
<rect x="415" y="366" width="1" height="16" fill="#26a69a"/>
<rect x="413" y="373" width="5" height="5" fill="#26a69a"/>
<rect x="420" y="371" width="1" height="30" fill="#ef5350"/>
<rect x="418" y="373" width="5" height="25" fill="#ef5350"/>
<rect x="426" y="391" width="1" height="15" fill="#26a69a"/>
<rect x="424" y="392" width="5" height="6" fill="#26a69a"/>
<rect x="432" y="334" width="1" height="61" fill="#26a69a"/>
<rect x="430" y="336" width="5" height="57" fill="#26a69a"/>
<rect x="437" y="331" width="1" height="13" fill="#ef5350"/>
<rect x="435" y="336" width="5" height="3" fill="#ef5350"/>
<rect x="443" y="321" width="1" height="21" fill="#26a69a"/>
<rect x="441" y="325" width="5" height="14" fill="#26a69a"/>
<rect x="449" y="297" width="1" height="38" fill="#26a69a"/>
<rect x="447" y="306" width="5" height="20" fill="#26a69a"/>
<rect x="455" y="284" width="1" height="37" fill="#26a69a"/>
<rect x="453" y="303" width="5" height="3" fill="#26a69a"/>
<rect x="460" y="293" width="1" height="22" fill="#26a69a"/>
<rect x="458" y="299" width="5" height="5" fill="#26a69a"/>
<rect x="466" y="280" width="1" height="34" fill="#ef5350"/>
<rect x="464" y="299" width="5" height="12" fill="#ef5350"/>
<rect x="472" y="305" width="1" height="26" fill="#ef5350"/>
<rect x="470" y="310" width="5" height="16" fill="#ef5350"/>
<rect x="477" y="317" width="1" height="17" fill="#ef5350"/>
<rect x="475" y="325" width="5" height="3" fill="#ef5350"/>
<rect x="483" y="320" width="1" height="12" fill="#ef5350"/>
<rect x="481" y="327" width="5" height="3" fill="#ef5350"/>
<rect x="489" y="319" width="1" height="17" fill="#26a69a"/>
<rect x="487" y="323" width="5" height="7" fill="#26a69a"/>
<rect x="495" y="294" width="1" height="30" fill="#26a69a"/>
<rect x="493" y="296" width="5" height="28" fill="#26a69a"/>
<rect x="500" y="296" width="1" height="17" fill="#ef5350"/>
<rect x="498" y="296" width="5" height="10" fill="#ef5350"/>
<rect x="506" y="301" width="1" height="54" fill="#ef5350"/>
<rect x="504" y="305" width="5" height="45" fill="#ef5350"/>
<rect x="512" y="344" width="1" height="20" fill="#ef5350"/>
<rect x="510" y="350" width="5" height="8" fill="#ef5350"/>
<rect x="517" y="350" width="1" height="12" fill="#26a69a"/>
<rect x="515" y="355" width="5" height="3" fill="#26a69a"/>
<rect x="523" y="355" width="1" height="28" fill="#ef5350"/>
<rect x="521" y="355" width="5" height="24" fill="#ef5350"/>
<rect x="529" y="363" width="1" height="36" fill="#ef5350"/>
<rect x="527" y="378" width="5" height="18" fill="#ef5350"/>
<rect x="534" y="377" width="1" height="27" fill="#26a69a"/>
<rect x="532" y="379" width="5" height="18" fill="#26a69a"/>
<rect x="540" y="366" width="1" height="29" fill="#ef5350"/>
<rect x="538" y="379" width="5" height="14" fill="#ef5350"/>
<rect x="546" y="360" width="1" height="71" fill="#26a69a"/>
<rect x="544" y="378" width="5" height="16" fill="#26a69a"/>
<rect x="552" y="360" width="1" height="23" fill="#26a69a"/>
<rect x="550" y="367" width="5" height="12" fill="#26a69a"/>
<rect x="557" y="352" width="1" height="23" fill="#ef5350"/>
<rect x="555" y="367" width="5" height="2" fill="#ef5350"/>
<rect x="563" y="358" width="1" height="38" fill="#ef5350"/>
<rect x="561" y="368" width="5" height="20" fill="#ef5350"/>
<rect x="569" y="301" width="1" height="89" fill="#26a69a"/>
<rect x="567" y="315" width="5" height="73" fill="#26a69a"/>
<rect x="574" y="291" width="1" height="28" fill="#26a69a"/>
<rect x="572" y="298" width="5" height="17" fill="#26a69a"/>
<rect x="580" y="287" width="1" height="26" fill="#ef5350"/>
<rect x="578" y="298" width="5" height="8" fill="#ef5350"/>
<rect x="586" y="303" width="1" height="30" fill="#ef5350"/>
<rect x="584" y="305" width="5" height="20" fill="#ef5350"/>
<rect x="592" y="323" width="1" height="52" fill="#ef5350"/>
<rect x="590" y="324" width="5" height="44" fill="#ef5350"/>
<rect x="597" y="362" width="1" height="13" fill="#26a69a"/>
<rect x="595" y="364" width="5" height="5" fill="#26a69a"/>
<rect x="603" y="361" width="1" height="21" fill="#ef5350"/>
<rect x="601" y="365" width="5" height="13" fill="#ef5350"/>
<rect x="609" y="362" width="1" height="32" fill="#ef5350"/>
<rect x="607" y="378" width="5" height="6" fill="#ef5350"/>
<rect x="614" y="365" width="1" height="19" fill="#26a69a"/>
<rect x="612" y="373" width="5" height="11" fill="#26a69a"/>
<rect x="620" y="323" width="1" height="51" fill="#26a69a"/>
<rect x="618" y="331" width="5" height="43" fill="#26a69a"/>
<rect x="626" y="330" width="1" height="46" fill="#ef5350"/>
<rect x="624" y="331" width="5" height="34" fill="#ef5350"/>
<rect x="632" y="354" width="1" height="26" fill="#ef5350"/>
<rect x="630" y="364" width="5" height="10" fill="#ef5350"/>
<rect x="637" y="364" width="1" height="10" fill="#26a69a"/>
<rect x="635" y="372" width="5" height="2" fill="#26a69a"/>
<rect x="643" y="366" width="1" height="22" fill="#ef5350"/>
<rect x="641" y="372" width="5" height="15" fill="#ef5350"/>
<rect x="649" y="358" width="1" height="31" fill="#26a69a"/>
<rect x="647" y="361" width="5" height="26" fill="#26a69a"/>
<rect x="654" y="358" width="1" height="23" fill="#ef5350"/>
<rect x="652" y="361" width="5" height="6" fill="#ef5350"/>
<rect x="660" y="334" width="1" height="38" fill="#26a69a"/>
<rect x="658" y="342" width="5" height="25" fill="#26a69a"/>
<rect x="666" y="337" width="1" height="14" fill="#ef5350"/>
<rect x="664" y="342" width="5" height="3" fill="#ef5350"/>
<rect x="672" y="326" width="1" height="30" fill="#26a69a"/>
<rect x="670" y="333" width="5" height="12" fill="#26a69a"/>
<rect x="677" y="325" width="1" height="11" fill="#26a69a"/>
<rect x="675" y="327" width="5" height="7" fill="#26a69a"/>
<rect x="683" y="326" width="1" height="18" fill="#ef5350"/>
<rect x="681" y="327" width="5" height="14" fill="#ef5350"/>
<rect x="689" y="336" width="1" height="14" fill="#ef5350"/>
<rect x="687" y="340" width="5" height="4" fill="#ef5350"/>
<rect x="694" y="313" width="1" height="32" fill="#26a69a"/>
<rect x="692" y="325" width="5" height="19" fill="#26a69a"/>
<rect x="700" y="317" width="1" height="16" fill="#26a69a"/>
<rect x="698" y="318" width="5" height="8" fill="#26a69a"/>
<rect x="706" y="301" width="1" height="21" fill="#26a69a"/>
<rect x="704" y="304" width="5" height="15" fill="#26a69a"/>
<rect x="712" y="289" width="1" height="20" fill="#26a69a"/>
<rect x="710" y="300" width="5" height="5" fill="#26a69a"/>
<rect x="717" y="293" width="1" height="10" fill="#26a69a"/>
<rect x="715" y="297" width="5" height="4" fill="#26a69a"/>
<rect x="723" y="265" width="1" height="33" fill="#26a69a"/>
<rect x="721" y="266" width="5" height="32" fill="#26a69a"/>
<rect x="729" y="248" width="1" height="21" fill="#26a69a"/>
<rect x="727" y="263" width="5" height="5" fill="#26a69a"/>
<rect x="734" y="250" width="1" height="15" fill="#26a69a"/>
<rect x="732" y="259" width="5" height="5" fill="#26a69a"/>
<rect x="740" y="255" width="1" height="15" fill="#ef5350"/>
<rect x="738" y="259" width="5" height="6" fill="#ef5350"/>
<rect x="746" y="257" width="1" height="31" fill="#ef5350"/>
<rect x="744" y="264" width="5" height="21" fill="#ef5350"/>
<rect x="752" y="268" width="1" height="33" fill="#26a69a"/>
<rect x="750" y="274" width="5" height="11" fill="#26a69a"/>
<rect x="757" y="262" width="1" height="20" fill="#ef5350"/>
<rect x="755" y="274" width="5" height="7" fill="#ef5350"/>
<rect x="763" y="259" width="1" height="25" fill="#26a69a"/>
<rect x="761" y="273" width="5" height="8" fill="#26a69a"/>
<rect x="769" y="266" width="1" height="23" fill="#26a69a"/>
<rect x="767" y="270" width="5" height="3" fill="#26a69a"/>
<rect x="774" y="262" width="1" height="24" fill="#ef5350"/>
<rect x="772" y="271" width="5" height="14" fill="#ef5350"/>
<rect x="780" y="284" width="1" height="32" fill="#ef5350"/>
<rect x="778" y="284" width="5" height="32" fill="#ef5350"/>
<rect x="786" y="305" width="1" height="16" fill="#26a69a"/>
<rect x="784" y="311" width="5" height="5" fill="#26a69a"/>
<rect x="792" y="304" width="1" height="25" fill="#ef5350"/>
<rect x="790" y="311" width="5" height="17" fill="#ef5350"/>
<rect x="797" y="320" width="1" height="9" fill="#26a69a"/>
<rect x="795" y="320" width="5" height="8" fill="#26a69a"/>
<rect x="803" y="311" width="1" height="21" fill="#ef5350"/>
<rect x="801" y="320" width="5" height="10" fill="#ef5350"/>
<rect x="809" y="325" width="1" height="42" fill="#ef5350"/>
<rect x="807" y="328" width="5" height="36" fill="#ef5350"/>
<rect x="814" y="348" width="1" height="18" fill="#26a69a"/>
<rect x="812" y="355" width="5" height="9" fill="#26a69a"/>
<rect x="820" y="336" width="1" height="26" fill="#26a69a"/>
<rect x="818" y="342" width="5" height="14" fill="#26a69a"/>
<rect x="826" y="337" width="1" height="25" fill="#ef5350"/>
<rect x="824" y="341" width="5" height="17" fill="#ef5350"/>
<rect x="831" y="345" width="1" height="14" fill="#26a69a"/>
<rect x="829" y="349" width="5" height="9" fill="#26a69a"/>
<rect x="837" y="347" width="1" height="9" fill="#ef5350"/>
<rect x="835" y="349" width="5" height="3" fill="#ef5350"/>
<rect x="843" y="349" width="1" height="13" fill="#ef5350"/>
<rect x="841" y="352" width="5" height="10" fill="#ef5350"/>
<rect x="849" y="342" width="1" height="34" fill="#26a69a"/>
<rect x="847" y="346" width="5" height="16" fill="#26a69a"/>
<rect x="854" y="334" width="1" height="15" fill="#26a69a"/>
<rect x="852" y="337" width="5" height="10" fill="#26a69a"/>
<rect x="860" y="327" width="1" height="18" fill="#ef5350"/>
<rect x="858" y="337" width="5" height="3" fill="#ef5350"/>
<rect x="866" y="318" width="1" height="42" fill="#ef5350"/>
<rect x="864" y="339" width="5" height="12" fill="#ef5350"/>
<rect x="871" y="346" width="1" height="21" fill="#ef5350"/>
<rect x="869" y="350" width="5" height="11" fill="#ef5350"/>
<rect x="877" y="357" width="1" height="9" fill="#ef5350"/>
<rect x="875" y="361" width="5" height="4" fill="#ef5350"/>
<rect x="883" y="357" width="1" height="13" fill="#26a69a"/>
<rect x="881" y="364" width="5" height="1" fill="#26a69a"/>
<rect x="889" y="349" width="1" height="31" fill="#26a69a"/>
<rect x="887" y="351" width="5" height="14" fill="#26a69a"/>
<rect x="894" y="346" width="1" height="41" fill="#ef5350"/>
<rect x="892" y="351" width="5" height="31" fill="#ef5350"/>
<rect x="900" y="363" width="1" height="21" fill="#26a69a"/>
<rect x="898" y="366" width="5" height="17" fill="#26a69a"/>
<rect x="906" y="352" width="1" height="19" fill="#26a69a"/>
<rect x="904" y="360" width="5" height="7" fill="#26a69a"/>
<rect x="911" y="358" width="1" height="23" fill="#ef5350"/>
<rect x="909" y="360" width="5" height="16" fill="#ef5350"/>
<rect x="917" y="373" width="1" height="16" fill="#ef5350"/>
<rect x="915" y="375" width="5" height="14" fill="#ef5350"/>
<rect x="923" y="374" width="1" height="17" fill="#26a69a"/>
<rect x="921" y="377" width="5" height="12" fill="#26a69a"/>
<rect x="929" y="368" width="1" height="14" fill="#26a69a"/>
<rect x="927" y="376" width="5" height="2" fill="#26a69a"/>
<rect x="934" y="374" width="1" height="15" fill="#ef5350"/>
<rect x="932" y="376" width="5" height="11" fill="#ef5350"/>
<rect x="940" y="356" width="1" height="31" fill="#26a69a"/>
<rect x="938" y="361" width="5" height="26" fill="#26a69a"/>
<rect x="946" y="359" width="1" height="56" fill="#ef5350"/>
<rect x="944" y="361" width="5" height="42" fill="#ef5350"/>
<rect x="951" y="401" width="1" height="18" fill="#ef5350"/>
<rect x="949" y="402" width="5" height="8" fill="#ef5350"/>
<rect x="957" y="408" width="1" height="17" fill="#ef5350"/>
<rect x="955" y="409" width="5" height="8" fill="#ef5350"/>
<rect x="963" y="416" width="1" height="23" fill="#ef5350"/>
<rect x="961" y="416" width="5" height="20" fill="#ef5350"/>
<rect x="969" y="433" width="1" height="55" fill="#ef5350"/>
<rect x="967" y="435" width="5" height="53" fill="#ef5350"/>
<rect x="974" y="453" width="1" height="39" fill="#26a69a"/>
<rect x="972" y="475" width="5" height="13" fill="#26a69a"/>
<rect x="980" y="460" width="1" height="57" fill="#ef5350"/>
<rect x="978" y="475" width="5" height="27" fill="#ef5350"/>
<rect x="986" y="487" width="1" height="61" fill="#ef5350"/>
<rect x="984" y="501" width="5" height="2" fill="#ef5350"/>
<rect x="991" y="475" width="1" height="30" fill="#26a69a"/>
<rect x="989" y="498" width="5" height="5" fill="#26a69a"/>
<rect x="997" y="484" width="1" height="23" fill="#26a69a"/>
<rect x="995" y="488" width="5" height="11" fill="#26a69a"/>
<rect x="1003" y="469" width="1" height="26" fill="#26a69a"/>
<rect x="1001" y="471" width="5" height="17" fill="#26a69a"/>
<rect x="1009" y="471" width="1" height="29" fill="#ef5350"/>
<rect x="1007" y="471" width="5" height="20" fill="#ef5350"/>
<rect x="1014" y="478" width="1" height="18" fill="#26a69a"/>
<rect x="1012" y="482" width="5" height="9" fill="#26a69a"/>
<rect x="1020" y="479" width="1" height="27" fill="#ef5350"/>
<rect x="1018" y="482" width="5" height="24" fill="#ef5350"/>
<rect x="1026" y="481" width="1" height="25" fill="#26a69a"/>
<rect x="1024" y="484" width="5" height="22" fill="#26a69a"/>
<rect x="1031" y="478" width="1" height="27" fill="#ef5350"/>
<rect x="1029" y="484" width="5" height="16" fill="#ef5350"/>
<rect x="1037" y="493" width="1" height="9" fill="#26a69a"/>
<rect x="1035" y="496" width="5" height="4" fill="#26a69a"/>
<rect x="1043" y="482" width="1" height="16" fill="#26a69a"/>
<rect x="1041" y="485" width="5" height="12" fill="#26a69a"/>
<rect x="1049" y="480" width="1" height="23" fill="#ef5350"/>
<rect x="1047" y="485" width="5" height="16" fill="#ef5350"/>
<rect x="1054" y="490" width="1" height="16" fill="#26a69a"/>
<rect x="1052" y="493" width="5" height="8" fill="#26a69a"/>
<rect x="1060" y="486" width="1" height="11" fill="#ef5350"/>
<rect x="1058" y="493" width="5" height="2" fill="#ef5350"/>
<rect x="1066" y="490" width="1" height="24" fill="#ef5350"/>
<rect x="1064" y="494" width="5" height="6" fill="#ef5350"/>
<rect x="1071" y="496" width="1" height="15" fill="#ef5350"/>
<rect x="1069" y="499" width="5" height="9" fill="#ef5350"/>
<rect x="1077" y="498" width="1" height="10" fill="#26a69a"/>
<rect x="1075" y="501" width="5" height="6" fill="#26a69a"/>
<rect x="1083" y="494" width="1" height="10" fill="#26a69a"/>
<rect x="1081" y="495" width="5" height="7" fill="#26a69a"/>
<rect x="1088" y="459" width="1" height="39" fill="#26a69a"/>
<rect x="1086" y="465" width="5" height="31" fill="#26a69a"/>
<rect x="1094" y="457" width="1" height="15" fill="#26a69a"/>
<rect x="1092" y="465" width="5" height="2" fill="#26a69a"/>
<rect x="1100" y="462" width="1" height="35" fill="#ef5350"/>
<rect x="1098" y="465" width="5" height="27" fill="#ef5350"/>
<rect x="1106" y="479" width="1" height="15" fill="#26a69a"/>
<rect x="1104" y="482" width="5" height="10" fill="#26a69a"/>
<rect x="1111" y="479" width="1" height="19" fill="#ef5350"/>
<rect x="1109" y="482" width="5" height="11" fill="#ef5350"/>
<rect x="1117" y="489" width="1" height="6" fill="#26a69a"/>
<rect x="1115" y="490" width="5" height="3" fill="#26a69a"/>
<rect x="1123" y="486" width="1" height="8" fill="#26a69a"/>
<rect x="1121" y="488" width="5" height="2" fill="#26a69a"/>
<rect x="1128" y="465" width="1" height="25" fill="#26a69a"/>
<rect x="1126" y="470" width="5" height="20" fill="#26a69a"/>
<rect x="1134" y="468" width="1" height="31" fill="#ef5350"/>
<rect x="1132" y="470" width="5" height="4" fill="#ef5350"/>
<rect x="1140" y="471" width="1" height="19" fill="#ef5350"/>
<rect x="1138" y="473" width="5" height="14" fill="#ef5350"/>
<rect x="1146" y="479" width="1" height="10" fill="#ef5350"/>
<rect x="1144" y="485" width="5" height="3" fill="#ef5350"/>
<rect x="1151" y="484" width="1" height="19" fill="#ef5350"/>
<rect x="1149" y="487" width="5" height="14" fill="#ef5350"/>
<rect x="1157" y="496" width="1" height="17" fill="#ef5350"/>
<rect x="1155" y="500" width="5" height="10" fill="#ef5350"/>
<rect x="1163" y="507" width="1" height="27" fill="#ef5350"/>
<rect x="1161" y="509" width="5" height="25" fill="#ef5350"/>
<rect x="1168" y="529" width="1" height="65" fill="#ef5350"/>
<rect x="1166" y="533" width="5" height="55" fill="#ef5350"/>
<rect x="1174" y="576" width="1" height="33" fill="#ef5350"/>
<rect x="1172" y="588" width="5" height="5" fill="#ef5350"/>
<rect x="1180" y="583" width="1" height="34" fill="#26a69a"/>
<rect x="1178" y="586" width="5" height="7" fill="#26a69a"/>
<rect x="1186" y="581" width="1" height="36" fill="#ef5350"/>
<rect x="1184" y="586" width="5" height="29" fill="#ef5350"/>
<rect x="1191" y="602" width="1" height="16" fill="#26a69a"/>
<rect x="1189" y="614" width="5" height="1" fill="#26a69a"/>
<rect x="1197" y="609" width="1" height="42" fill="#ef5350"/>
<rect x="1195" y="614" width="5" height="20" fill="#ef5350"/>
<rect x="1203" y="609" width="1" height="38" fill="#26a69a"/>
<rect x="1201" y="612" width="5" height="22" fill="#26a69a"/>
<rect x="1208" y="606" width="1" height="18" fill="#ef5350"/>
<rect x="1206" y="612" width="5" height="1" fill="#ef5350"/>
<rect x="1214" y="597" width="1" height="18" fill="#26a69a"/>
<rect x="1212" y="610" width="5" height="3" fill="#26a69a"/>
<rect x="1220" y="608" width="1" height="15" fill="#ef5350"/>
<rect x="1218" y="610" width="5" height="11" fill="#ef5350"/>
<rect x="1226" y="604" width="1" height="17" fill="#26a69a"/>
<rect x="1224" y="605" width="5" height="16" fill="#26a69a"/>
<rect x="1231" y="599" width="1" height="11" fill="#26a69a"/>
<rect x="1229" y="603" width="5" height="3" fill="#26a69a"/>
<rect x="1237" y="599" width="1" height="9" fill="#26a69a"/>
<rect x="1235" y="600" width="5" height="4" fill="#26a69a"/>
<rect x="1243" y="595" width="1" height="12" fill="#ef5350"/>
<rect x="1241" y="600" width="5" height="7" fill="#ef5350"/>
<rect x="1248" y="599" width="1" height="14" fill="#ef5350"/>
<rect x="1246" y="606" width="5" height="5" fill="#ef5350"/>
<rect x="1254" y="604" width="1" height="13" fill="#ef5350"/>
<rect x="1252" y="610" width="5" height="7" fill="#ef5350"/>
<rect x="1260" y="614" width="1" height="8" fill="#ef5350"/>
<rect x="1258" y="616" width="5" height="3" fill="#ef5350"/>
<rect x="1266" y="618" width="1" height="20" fill="#ef5350"/>
<rect x="1264" y="618" width="5" height="3" fill="#ef5350"/>
<rect x="1271" y="608" width="1" height="25" fill="#ef5350"/>
<rect x="1269" y="620" width="5" height="10" fill="#ef5350"/>
<rect x="1277" y="627" width="1" height="6" fill="#ef5350"/>
<rect x="1275" y="629" width="5" height="1" fill="#ef5350"/>
<rect x="1283" y="624" width="1" height="12" fill="#26a69a"/>
<rect x="1281" y="629" width="5" height="1" fill="#26a69a"/>
<rect x="1288" y="615" width="1" height="17" fill="#26a69a"/>
<rect x="1286" y="617" width="5" height="14" fill="#26a69a"/>
<rect x="1294" y="610" width="1" height="19" fill="#ef5350"/>
<rect x="1292" y="617" width="5" height="1" fill="#ef5350"/>
<rect x="1300" y="611" width="1" height="12" fill="#26a69a"/>
<rect x="1298" y="612" width="5" height="6" fill="#26a69a"/>
<rect x="1306" y="595" width="1" height="21" fill="#26a69a"/>
<rect x="1304" y="598" width="5" height="15" fill="#26a69a"/>
<rect x="1311" y="588" width="1" height="16" fill="#ef5350"/>
<rect x="1309" y="598" width="5" height="2" fill="#ef5350"/>
<rect x="1317" y="594" width="1" height="8" fill="#ef5350"/>
<rect x="1315" y="598" width="5" height="1" fill="#ef5350"/>
<rect x="1323" y="598" width="1" height="13" fill="#ef5350"/>
<rect x="1321" y="599" width="5" height="10" fill="#ef5350"/>
<rect x="1328" y="608" width="1" height="13" fill="#ef5350"/>
<rect x="1326" y="608" width="5" height="13" fill="#ef5350"/>
<rect x="1334" y="619" width="1" height="10" fill="#ef5350"/>
<rect x="1332" y="620" width="5" height="9" fill="#ef5350"/>
<rect x="1340" y="615" width="1" height="19" fill="#26a69a"/>
<rect x="1338" y="616" width="5" height="13" fill="#26a69a"/>
<rect x="1346" y="608" width="1" height="16" fill="#26a69a"/>
<rect x="1344" y="612" width="5" height="5" fill="#26a69a"/>
<rect x="1351" y="604" width="1" height="10" fill="#26a69a"/>
<rect x="1349" y="608" width="5" height="5" fill="#26a69a"/>
<rect x="1357" y="599" width="1" height="14" fill="#26a69a"/>
<rect x="1355" y="604" width="5" height="6" fill="#26a69a"/>
<rect x="1363" y="597" width="1" height="13" fill="#ef5350"/>
<rect x="1361" y="604" width="5" height="6" fill="#ef5350"/>
<rect x="1368" y="583" width="1" height="27" fill="#26a69a"/>
<rect x="1366" y="587" width="5" height="23" fill="#26a69a"/>
<rect x="1374" y="569" width="1" height="30" fill="#26a69a"/>
<rect x="1372" y="575" width="5" height="13" fill="#26a69a"/>
<rect x="1380" y="563" width="1" height="18" fill="#ef5350"/>
<rect x="1378" y="575" width="5" height="3" fill="#ef5350"/>
<rect x="1385" y="574" width="1" height="15" fill="#ef5350"/>
<rect x="1383" y="577" width="5" height="2" fill="#ef5350"/>
<rect x="1391" y="570" width="1" height="16" fill="#ef5350"/>
<rect x="1389" y="578" width="5" height="7" fill="#ef5350"/>
<rect x="1397" y="580" width="1" height="14" fill="#ef5350"/>
<rect x="1395" y="584" width="5" height="4" fill="#ef5350"/>
<rect x="1403" y="580" width="1" height="9" fill="#26a69a"/>
<rect x="1401" y="585" width="5" height="3" fill="#26a69a"/>
<rect x="1408" y="584" width="1" height="19" fill="#ef5350"/>
<rect x="1406" y="585" width="5" height="18" fill="#ef5350"/>
<rect x="1414" y="602" width="1" height="8" fill="#ef5350"/>
<rect x="1412" y="602" width="5" height="2" fill="#ef5350"/>
<rect x="1420" y="578" width="1" height="28" fill="#26a69a"/>
<rect x="1418" y="580" width="5" height="24" fill="#26a69a"/>
<rect x="1425" y="564" width="1" height="21" fill="#26a69a"/>
<rect x="1423" y="569" width="5" height="12" fill="#26a69a"/>
<rect x="1431" y="561" width="1" height="13" fill="#ef5350"/>
<rect x="1429" y="569" width="5" height="2" fill="#ef5350"/>
<rect x="1437" y="558" width="1" height="15" fill="#ef5350"/>
<rect x="1435" y="570" width="5" height="2" fill="#ef5350"/>
<rect x="1443" y="564" width="1" height="13" fill="#ef5350"/>
<rect x="1441" y="571" width="5" height="6" fill="#ef5350"/>
<rect x="1448" y="573" width="1" height="9" fill="#ef5350"/>
<rect x="1446" y="576" width="5" height="1" fill="#ef5350"/>
<rect x="1454" y="574" width="1" height="10" fill="#ef5350"/>
<rect x="1452" y="576" width="5" height="5" fill="#ef5350"/>
<rect x="1460" y="572" width="1" height="12" fill="#ef5350"/>
<rect x="1458" y="580" width="5" height="3" fill="#ef5350"/>
<rect x="1465" y="577" width="1" height="11" fill="#ef5350"/>
<rect x="1463" y="582" width="5" height="4" fill="#ef5350"/>
<rect x="1471" y="574" width="1" height="12" fill="#26a69a"/>
<rect x="1469" y="576" width="5" height="10" fill="#26a69a"/>
<rect x="1477" y="575" width="1" height="7" fill="#ef5350"/>
<rect x="1475" y="576" width="5" height="6" fill="#ef5350"/>
<rect x="1483" y="575" width="1" height="7" fill="#26a69a"/>
<rect x="1481" y="577" width="5" height="5" fill="#26a69a"/>
<rect x="1488" y="564" width="1" height="15" fill="#26a69a"/>
<rect x="1486" y="569" width="5" height="10" fill="#26a69a"/>
<rect x="1494" y="568" width="1" height="14" fill="#ef5350"/>
<rect x="1492" y="569" width="5" height="10" fill="#ef5350"/>
<rect x="1500" y="564" width="1" height="20" fill="#26a69a"/>
<rect x="1498" y="567" width="5" height="12" fill="#26a69a"/>
<rect x="1505" y="555" width="1" height="14" fill="#ef5350"/>
<rect x="1503" y="567" width="5" height="1" fill="#ef5350"/>
<rect x="1511" y="561" width="1" height="11" fill="#26a69a"/>
<rect x="1509" y="561" width="5" height="7" fill="#26a69a"/>
<rect x="1517" y="555" width="1" height="8" fill="#26a69a"/>
<rect x="1515" y="561" width="5" height="1" fill="#26a69a"/>
<rect x="1523" y="553" width="1" height="12" fill="#ef5350"/>
<rect x="1521" y="561" width="5" height="3" fill="#ef5350"/>
<rect x="1528" y="551" width="1" height="19" fill="#ef5350"/>
<rect x="1526" y="563" width="5" height="3" fill="#ef5350"/>
<rect x="1534" y="564" width="1" height="7" fill="#ef5350"/>
<rect x="1532" y="565" width="5" height="5" fill="#ef5350"/>
<rect x="1540" y="561" width="1" height="17" fill="#ef5350"/>
<rect x="1538" y="569" width="5" height="7" fill="#ef5350"/>
<rect x="1545" y="572" width="1" height="7" fill="#ef5350"/>
<rect x="1543" y="575" width="5" height="3" fill="#ef5350"/>
<rect x="1551" y="577" width="1" height="32" fill="#ef5350"/>
<rect x="1549" y="577" width="5" height="32" fill="#ef5350"/>
<rect x="1557" y="601" width="1" height="8" fill="#26a69a"/>
<rect x="1555" y="604" width="5" height="5" fill="#26a69a"/>
<rect x="1563" y="596" width="1" height="9" fill="#26a69a"/>
<rect x="1561" y="599" width="5" height="6" fill="#26a69a"/>
<rect x="1568" y="599" width="1" height="9" fill="#ef5350"/>
<rect x="1566" y="599" width="5" height="3" fill="#ef5350"/>
<rect x="1574" y="597" width="1" height="11" fill="#26a69a"/>
<rect x="1572" y="599" width="5" height="3" fill="#26a69a"/>
<rect x="1580" y="594" width="1" height="10" fill="#ef5350"/>
<rect x="1578" y="599" width="5" height="3" fill="#ef5350"/>
<rect x="1585" y="596" width="1" height="6" fill="#26a69a"/>
<rect x="1583" y="599" width="5" height="3" fill="#26a69a"/>
<rect x="1591" y="595" width="1" height="23" fill="#ef5350"/>
<rect x="1589" y="599" width="5" height="18" fill="#ef5350"/>
<rect x="1597" y="614" width="1" height="8" fill="#ef5350"/>
<rect x="1595" y="616" width="5" height="4" fill="#ef5350"/>
<rect x="1603" y="617" width="1" height="9" fill="#ef5350"/>
<rect x="1601" y="619" width="5" height="7" fill="#ef5350"/>
<rect x="1608" y="614" width="1" height="12" fill="#26a69a"/>
<rect x="1606" y="615" width="5" height="11" fill="#26a69a"/>
<rect x="1614" y="612" width="1" height="13" fill="#ef5350"/>
<rect x="1612" y="615" width="5" height="8" fill="#ef5350"/>
<rect x="1620" y="613" width="1" height="9" fill="#26a69a"/>
<rect x="1618" y="619" width="5" height="3" fill="#26a69a"/>
<rect x="1625" y="617" width="1" height="8" fill="#26a69a"/>
<rect x="1623" y="618" width="5" height="2" fill="#26a69a"/>
<rect x="1631" y="614" width="1" height="8" fill="#ef5350"/>
<rect x="1629" y="618" width="5" height="3" fill="#ef5350"/>
<rect x="1637" y="619" width="1" height="5" fill="#ef5350"/>
<rect x="1635" y="620" width="5" height="2" fill="#ef5350"/>
<rect x="1642" y="619" width="1" height="6" fill="#26a69a"/>
<rect x="1640" y="619" width="5" height="3" fill="#26a69a"/>
<rect x="1648" y="619" width="1" height="5" fill="#ef5350"/>
<rect x="1646" y="619" width="5" height="4" fill="#ef5350"/>
<rect x="1654" y="617" width="1" height="20" fill="#ef5350"/>
<rect x="1652" y="622" width="5" height="14" fill="#ef5350"/>
<rect x="1660" y="629" width="1" height="10" fill="#26a69a"/>
<rect x="1658" y="630" width="5" height="6" fill="#26a69a"/>
</g>
</g>
<g clip-path="url(#axis)">
<text x="1733" y="99.0" font-size="14" fill="#b2b5be" stroke="#b2b5be" stroke-width="0.2" textLength="58" lengthAdjust="spacing">60000.00</text>
<text x="1733" y="151.0" font-size="14" fill="#b2b5be" stroke="#b2b5be" stroke-width="0.2" textLength="58" lengthAdjust="spacing">56000.00</text>
<text x="1733" y="204.0" font-size="14" fill="#b2b5be" stroke="#b2b5be" stroke-width="0.2" textLength="58" lengthAdjust="spacing">52000.00</text>
<text x="1733" y="257.0" font-size="14" fill="#b2b5be" stroke="#b2b5be" stroke-width="0.2" textLength="58" lengthAdjust="spacing">48000.00</text>
<text x="1733" y="309.0" font-size="14" fill="#b2b5be" stroke="#b2b5be" stroke-width="0.2" textLength="58" lengthAdjust="spacing">44000.00</text>
<text x="1733" y="362.0" font-size="14" fill="#b2b5be" stroke="#b2b5be" stroke-width="0.2" textLength="58" lengthAdjust="spacing">40000.00</text>
<text x="1733" y="414.0" font-size="14" fill="#b2b5be" stroke="#b2b5be" stroke-width="0.2" textLength="58" lengthAdjust="spacing">36000.00</text>
<text x="1733" y="467.0" font-size="14" fill="#b2b5be" stroke="#b2b5be" stroke-width="0.2" textLength="58" lengthAdjust="spacing">32000.00</text>
<text x="1733" y="519.0" font-size="14" fill="#b2b5be" stroke="#b2b5be" stroke-width="0.2" textLength="58" lengthAdjust="spacing">28000.00</text>
<text x="1733" y="572.0" font-size="14" fill="#b2b5be" stroke="#b2b5be" stroke-width="0.2" textLength="58" lengthAdjust="spacing">24000.00</text>
<text x="1733" y="624.0" font-size="14" fill="#b2b5be" stroke="#b2b5be" stroke-width="0.2" textLength="58" lengthAdjust="spacing">20000.00</text>
<text x="1733" y="677.0" font-size="14" fill="#b2b5be" stroke="#b2b5be" stroke-width="0.2" textLength="58" lengthAdjust="spacing">16000.00</text>
<text x="1733.3" y="54.8" font-size="12.3" fill="#b2b5be" stroke="#b2b5be" stroke-width="0.3" textLength="24.6" lengthAdjust="spacing">USD</text>
<path d="M1721 255.0H1797Q1800 255.0 1800 258.0V275.0Q1800 278.0 1797 278.0H1721Z" fill="#0f1116"/>
<path d="M1721 288.0H1797Q1800 288.0 1800 291.0V308.0Q1800 311.0 1797 311.0H1721Z" fill="#0f1116"/>
<path d="M1721 329.0H1797Q1800 329.0 1800 332.0V349.0Q1800 352.0 1797 352.0H1721Z" fill="#0f1116"/>
<path d="M1721 381.0H1797Q1800 381.0 1800 384.0V401.0Q1800 404.0 1797 404.0H1721Z" fill="#0f1116"/>
<path d="M1721 416.3H1797Q1800 416.3 1800 419.3V436.3Q1800 439.3 1797 439.3H1721Z" fill="#0f1116"/>
<path d="M1721 447.0H1797Q1800 447.0 1800 450.0V467.0Q1800 470.0 1797 470.0H1721Z" fill="#0f1116"/>
<path d="M1721 476.1H1797Q1800 476.1 1800 479.1V496.5Q1800 499.5 1797 499.5H1721Z" fill="#0f1116"/>
<path d="M1721 496.5H1797Q1800 496.5 1800 499.5V516.9Q1800 519.9 1797 519.9H1721Z" fill="#0f1116"/>
<path d="M1721 516.9H1797Q1800 516.9 1800 519.9V537.3Q1800 540.3 1797 540.3H1721Z" fill="#0f1116"/>
<path d="M1721 537.3H1797Q1800 537.3 1800 540.3V557.6999999999999Q1800 560.6999999999999 1797 560.6999999999999H1721Z" fill="#0f1116"/>
<path d="M1721 557.7H1797Q1800 557.7 1800 560.7V578.1Q1800 581.1 1797 581.1H1721Z" fill="#0f1116"/>
<path d="M1721 578.1H1797Q1800 578.1 1800 581.1V598.5Q1800 601.5 1797 601.5H1721Z" fill="#0f1116"/>
<path d="M1721 598.5H1797Q1800 598.5 1800 601.5V618.9Q1800 621.9 1797 621.9H1721Z" fill="#0f1116"/>
<path d="M1721 619.0H1797Q1800 619.0 1800 622.0V656.0Q1800 659.0 1797 659.0H1721Z" fill="#0f1116"/>
<path d="M1721 697.8H1797Q1800 697.8 1800 700.8V717.8Q1800 720.8 1797 720.8H1721Z" fill="#0f1116"/>
<path d="M1721 256.0H1797Q1799 256.0 1799 258.0V275.0Q1799 277.0 1797 277.0H1721Z" fill="#2962ff"/>
<path d="M1721 289.0H1797Q1799 289.0 1799 291.0V308.0Q1799 310.0 1797 310.0H1721Z" fill="#2962ff"/>
<path d="M1721 330.0H1797Q1799 330.0 1799 332.0V349.0Q1799 351.0 1797 351.0H1721Z" fill="#2962ff"/>
<path d="M1721 382.0H1797Q1799 382.0 1799 384.0V401.0Q1799 403.0 1797 403.0H1721Z" fill="#2962ff"/>
<path d="M1721 417.3H1797Q1799 417.3 1799 419.3V436.3Q1799 438.3 1797 438.3H1721Z" fill="#2962ff"/>
<path d="M1721 448.0H1797Q1799 448.0 1799 450.0V467.0Q1799 469.0 1797 469.0H1721Z" fill="#2962ff"/>
<path d="M1721 477.1H1797Q1799 477.1 1799 479.1V496.5Q1799 498.5 1797 498.5H1721Z" fill="#2962ff"/>
<path d="M1721 497.5H1797Q1799 497.5 1799 499.5V516.9Q1799 518.9 1797 518.9H1721Z" fill="#2962ff"/>
<path d="M1721 517.9H1797Q1799 517.9 1799 519.9V537.3Q1799 539.3 1797 539.3H1721Z" fill="#2962ff"/>
<path d="M1721 538.3H1797Q1799 538.3 1799 540.3V557.6999999999999Q1799 559.6999999999999 1797 559.6999999999999H1721Z" fill="#2962ff"/>
<path d="M1721 558.7H1797Q1799 558.7 1799 560.7V578.1Q1799 580.1 1797 580.1H1721Z" fill="#2962ff"/>
<path d="M1721 579.1H1797Q1799 579.1 1799 581.1V598.5Q1799 600.5 1797 600.5H1721Z" fill="#2962ff"/>
<path d="M1721 599.5H1797Q1799 599.5 1799 601.5V618.9Q1799 620.9 1797 620.9H1721Z" fill="#2962ff"/>
<path d="M1721 620.0H1797Q1799 620.0 1799 622.0V656.0Q1799 658.0 1797 658.0H1721Z" fill="#26a69a"/>
<path d="M1721 698.8H1797Q1799 698.8 1799 700.8V717.8Q1799 719.8 1797 719.8H1721Z" fill="#2962ff"/>
<text x="1733.5" y="271.6" font-size="14" fill="#ffffff" font-weight="bold" textLength="58.2" lengthAdjust="spacing">46881.92</text>
<text x="1733.5" y="304.6" font-size="14" fill="#ffffff" font-weight="bold" textLength="58.2" lengthAdjust="spacing">44354.80</text>
<text x="1733.5" y="345.6" font-size="14" fill="#ffffff" font-weight="bold" textLength="58.2" lengthAdjust="spacing">41286.15</text>
<text x="1733.5" y="397.6" font-size="14" fill="#ffffff" font-weight="bold" textLength="58.2" lengthAdjust="spacing">37314.95</text>
<text x="1733.5" y="432.90000000000003" font-size="14" fill="#ffffff" font-weight="bold" textLength="58.2" lengthAdjust="spacing">34607.32</text>
<text x="1733.5" y="463.6" font-size="14" fill="#ffffff" font-weight="bold" textLength="58.2" lengthAdjust="spacing">32260.71</text>
<text x="1733.5" y="492.5" font-size="14" fill="#ffffff" font-weight="bold" textLength="58.2" lengthAdjust="spacing">28470.03</text>
<text x="1733.5" y="512.9" font-size="14" fill="#ffffff" font-weight="bold" textLength="58.2" lengthAdjust="spacing">26664.94</text>
<text x="1733.5" y="533.3000000000001" font-size="14" fill="#ffffff" font-weight="bold" textLength="58.2" lengthAdjust="spacing">24122.55</text>
<text x="1733.5" y="553.7" font-size="14" fill="#ffffff" font-weight="bold" textLength="58.2" lengthAdjust="spacing">22682.59</text>
<text x="1733.5" y="574.1" font-size="14" fill="#ffffff" font-weight="bold" textLength="58.2" lengthAdjust="spacing">21039.74</text>
<text x="1733.5" y="594.5000000000001" font-size="14" fill="#ffffff" font-weight="bold" textLength="58.2" lengthAdjust="spacing">20253.61</text>
<text x="1733.5" y="614.9000000000001" font-size="14" fill="#ffffff" font-weight="bold" textLength="58.2" lengthAdjust="spacing">19255.24</text>
<text x="1733.5" y="636" font-size="14" fill="#ffffff" font-weight="bold" textLength="58.2" lengthAdjust="spacing">19218.00</text>
<text x="1733.5" y="653" font-size="14" fill="rgba(255,255,255,0.75)" textLength="55.5" lengthAdjust="spacing">03:30:19</text>
<text x="1733.5" y="714.8" font-size="14" fill="#ffffff" font-weight="bold" textLength="58.2" lengthAdjust="spacing">13175.55</text>
</g>
<text x="60.2" y="727.7" font-size="13.3" fill="#b2b5be" stroke="#b2b5be" stroke-width="0.3" text-anchor="middle">Dec</text>
<text x="237.2" y="727.7" font-size="13.3" fill="#d1d4dc" stroke="#d1d4dc" stroke-width="0.3" font-weight="bold" textLength="33" lengthAdjust="spacing" text-anchor="middle">2022</text>
<text x="414.7" y="727.7" font-size="13.3" fill="#b2b5be" stroke="#b2b5be" stroke-width="0.3" text-anchor="middle">Feb</text>
<text x="574.2" y="727.7" font-size="13.3" fill="#b2b5be" stroke="#b2b5be" stroke-width="0.3" text-anchor="middle">Mar</text>
<text x="751.7" y="727.7" font-size="13.3" fill="#b2b5be" stroke="#b2b5be" stroke-width="0.3" text-anchor="middle">Apr</text>
<text x="923.2" y="727.7" font-size="13.3" fill="#b2b5be" stroke="#b2b5be" stroke-width="0.3" text-anchor="middle">May</text>
<text x="1100.2" y="727.7" font-size="13.3" fill="#b2b5be" stroke="#b2b5be" stroke-width="0.3" text-anchor="middle">Jun</text>
<text x="1271.2" y="727.7" font-size="13.3" fill="#b2b5be" stroke="#b2b5be" stroke-width="0.3" text-anchor="middle">Jul</text>
<text x="1448.2" y="727.7" font-size="13.3" fill="#b2b5be" stroke="#b2b5be" stroke-width="0.3" text-anchor="middle">Aug</text>
<text x="1625.2" y="727.7" font-size="13.3" fill="#b2b5be" stroke="#b2b5be" stroke-width="0.3" text-anchor="middle">Sep</text>
<text x="11.4" y="23.1" font-size="14" fill="#d1d4dc" stroke="#d1d4dc" stroke-width="0.3" textLength="74.6" lengthAdjust="spacing">anushsamal</text>
<text x="90.3" y="23.1" font-size="14" fill="#d1d4dc" stroke="#d1d4dc" stroke-width="0.3" textLength="61.6" lengthAdjust="spacing">published</text>
<text x="156.4" y="23.1" font-size="14" fill="#d1d4dc" stroke="#d1d4dc" stroke-width="0.3" textLength="15.7" lengthAdjust="spacing">on</text>
<text x="176.0" y="23.1" font-size="14" fill="#d1d4dc" stroke="#d1d4dc" stroke-width="0.3" textLength="113.1" lengthAdjust="spacing">TradingView.com,</text>
<text x="294.6" y="23.1" font-size="14" fill="#d1d4dc" stroke="#d1d4dc" stroke-width="0.3" textLength="23.3" lengthAdjust="spacing">Sep</text>
<text x="321.6" y="23.1" font-size="14" fill="#d1d4dc" stroke="#d1d4dc" stroke-width="0.3" textLength="20.4" lengthAdjust="spacing">07,</text>
<text x="346.5" y="23.1" font-size="14" fill="#d1d4dc" stroke="#d1d4dc" stroke-width="0.3" textLength="29.7" lengthAdjust="spacing">2022</text>
<text x="381.3" y="23.1" font-size="14" fill="#d1d4dc" stroke="#d1d4dc" stroke-width="0.3" textLength="35.4" lengthAdjust="spacing">20:29</text>
<text x="420.8" y="23.1" font-size="14" fill="#d1d4dc" stroke="#d1d4dc" stroke-width="0.3" textLength="26.3" lengthAdjust="spacing">UTC</text>
<text x="22.0" y="55.7" font-size="13.5" fill="#b2b5be" stroke="#b2b5be" stroke-width="0.3" textLength="44.8" lengthAdjust="spacing">Bitcoin</text>
<text x="72.4" y="55.7" font-size="13.5" fill="#b2b5be" stroke="#b2b5be" stroke-width="0.3" textLength="4.9" lengthAdjust="spacing">/</text>
<text x="82.7" y="55.7" font-size="13.5" fill="#b2b5be" stroke="#b2b5be" stroke-width="0.3" textLength="25.9" lengthAdjust="spacing">U.S.</text>
<text x="114.4" y="55.7" font-size="13.5" fill="#b2b5be" stroke="#b2b5be" stroke-width="0.3" textLength="40.2" lengthAdjust="spacing">Dollar,</text>
<text x="160.3" y="55.7" font-size="13.5" fill="#b2b5be" stroke="#b2b5be" stroke-width="0.3" textLength="20.1" lengthAdjust="spacing">1D,</text>
<text x="186.2" y="55.7" font-size="13.5" fill="#b2b5be" stroke="#b2b5be" stroke-width="0.3" textLength="60.2" lengthAdjust="spacing">BITSTAMP</text>
<text x="255.4" y="55.7" font-size="13.5" fill="#b2b5be" stroke="#b2b5be" stroke-width="0.3" textLength="10.4" lengthAdjust="spacing">O</text>
<text x="332.4" y="55.7" font-size="13.5" fill="#b2b5be" stroke="#b2b5be" stroke-width="0.3" textLength="9.3" lengthAdjust="spacing">H</text>
<text x="408.3" y="55.7" font-size="13.5" fill="#b2b5be" stroke="#b2b5be" stroke-width="0.3" textLength="7.8" lengthAdjust="spacing">L</text>
<text x="482.4" y="55.7" font-size="13.5" fill="#b2b5be" stroke="#b2b5be" stroke-width="0.3" textLength="8.5" lengthAdjust="spacing">C</text>
<text x="267.0" y="55.7" font-size="13.5" fill="#26a69a" stroke="#26a69a" stroke-width="0.3" textLength="56.5" lengthAdjust="spacing">18808.00</text>
<text x="342.9" y="55.7" font-size="13.5" fill="#26a69a" stroke="#26a69a" stroke-width="0.3" textLength="56.9" lengthAdjust="spacing">19265.00</text>
<text x="416.8" y="55.7" font-size="13.5" fill="#26a69a" stroke="#26a69a" stroke-width="0.3" textLength="56.5" lengthAdjust="spacing">18540.00</text>
<text x="492.7" y="55.7" font-size="13.5" fill="#26a69a" stroke="#26a69a" stroke-width="0.3" textLength="56.9" lengthAdjust="spacing">19218.00</text>
<text x="558.4" y="55.7" font-size="13.5" fill="#26a69a" stroke="#26a69a" stroke-width="0.3" textLength="50.1" lengthAdjust="spacing">+429.00</text>
<text x="613.4" y="55.7" font-size="13.5" fill="#26a69a" stroke="#26a69a" stroke-width="0.3" textLength="53.6" lengthAdjust="spacing">(+2.28%)</text>
<text x="21.4" y="76.6" font-size="13.5" fill="#b2b5be" stroke="#b2b5be" stroke-width="0.3" textLength="19.6" lengthAdjust="spacing">Vol</text>
<text x="51.0" y="76.6" font-size="13.5" fill="#26a69a" stroke="#26a69a" stroke-width="0.3" textLength="43.2" lengthAdjust="spacing">1.481K</text>
<g fill="#d1d4dc"><path d="M11.9 754.6H21.2V765.8H16V759.5H11.9Z"/><circle cx="25.3" cy="756.9" r="2.7"/><path d="M28.9 754.6H35.4L31.6 765.8H25.8Z"/></g>
<text x="39.7" y="767" font-size="15.5" fill="#d1d4dc" stroke="#d1d4dc" stroke-width="0.3" textLength="84.3" lengthAdjust="spacing">TradingView</text>
</svg>
</body></html>
